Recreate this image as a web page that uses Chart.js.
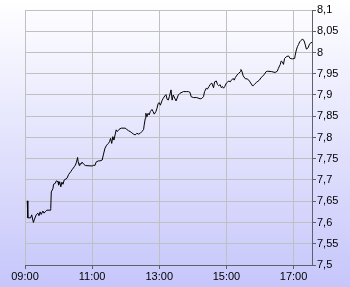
<!DOCTYPE html>
<html><head><meta charset="utf-8">
<script src="https://cdn.jsdelivr.net/npm/chart.js@4/dist/chart.umd.min.js"></script>
<style>
html,body{margin:0;padding:0;}
body{width:350px;height:287px;overflow:hidden;background:linear-gradient(to bottom,#ffffff 0%,#c6c6fb 100%);}
#wrap{width:350px;height:287px;position:relative;}
canvas{display:block;}
</style></head><body>
<div id="wrap"><canvas id="c" width="350" height="287"></canvas></div>
<script>
// minutes after 09:00
const minutes=[4,5,10,12,15,17,20,23,25,27,29,32,34,36,39,45,46,47,50,51,54,56,59,60,62,64,66,68,70,75,76,78,82,84,88,90,92,94,95,97,98,100,102,105,108,120,123,125,127,131,134,138,140,143,146,149,151,153,155,157,159,161,163,165,168,172,179,182,185,188,191,194,197,200,203,206,209,212,213,215,216,218,220,222,224,227,229,231,234,236,238,240,242,245,247,250,252,254,256,258,261,263,265,270,274,277,283,289,292,295,297,301,307,313,316,319,321,324,326,329,331,334,337,339,342,344,346,349,351,353,355,357,360,362,364,367,369,372,374,376,379,382,385,386,388,390,394,397,400,402,407,410,414,419,422,424,428,431,434,441,447,451,453,456,458,460,462,464,467,471,474,478,482,483,485,487,489,491,494,496,499,501,503,506,508,510,513];
const prices=[7.651,7.611,7.611,7.618,7.600,7.608,7.618,7.622,7.616,7.625,7.619,7.627,7.622,7.625,7.629,7.629,7.633,7.672,7.680,7.690,7.692,7.698,7.696,7.688,7.696,7.684,7.695,7.690,7.700,7.704,7.707,7.713,7.720,7.724,7.731,7.735,7.742,7.753,7.743,7.734,7.739,7.737,7.742,7.737,7.734,7.733,7.735,7.734,7.742,7.745,7.745,7.747,7.759,7.775,7.782,7.786,7.790,7.798,7.786,7.802,7.794,7.806,7.818,7.814,7.819,7.822,7.822,7.819,7.816,7.814,7.811,7.808,7.806,7.810,7.808,7.810,7.814,7.819,7.829,7.845,7.857,7.849,7.857,7.853,7.861,7.866,7.861,7.855,7.861,7.869,7.880,7.882,7.876,7.887,7.892,7.898,7.901,7.890,7.888,7.896,7.912,7.888,7.900,7.886,7.900,7.904,7.908,7.908,7.908,7.906,7.896,7.894,7.894,7.891,7.892,7.896,7.908,7.916,7.914,7.920,7.925,7.928,7.917,7.931,7.933,7.925,7.922,7.924,7.917,7.920,7.916,7.920,7.928,7.930,7.933,7.931,7.935,7.939,7.935,7.941,7.947,7.951,7.955,7.960,7.955,7.945,7.938,7.938,7.935,7.931,7.921,7.925,7.930,7.935,7.941,7.943,7.949,7.955,7.956,7.955,7.953,7.956,7.963,7.971,7.980,7.978,7.972,7.986,7.990,7.992,7.986,7.985,7.986,7.994,8.006,8.014,8.019,8.025,8.029,8.032,8.027,8.018,8.008,8.011,8.018,8.022,8.024];
const xTickMinutes=[0,120,240,360,480];
const xTickLabels=['09:00','11:00','13:00','15:00','17:00'];
const yTickValues=[7.5,7.55,7.6,7.65,7.7,7.75,7.8,7.85,7.9,7.95,8.0,8.05,8.1];
const yTickLabels=['7,5','7,55','7,6','7,65','7,7','7,75','7,8','7,85','7,9','7,95','8','8,05','8,1'];
const xMin=0, xMax=513, yMin=7.5, yMax=8.1;

const points=minutes.map((m,i)=>({x:m,y:prices[i]}));
const font={family:'"Liberation Sans", Arial, sans-serif',size:11};

new Chart(document.getElementById('c'),{
  type:'line',
  data:{datasets:[{data:points,borderColor:'#000',borderWidth:1,pointRadius:0,tension:0,fill:false}]},
  options:{
    responsive:false,animation:false,devicePixelRatio:1,
    layout:{padding:{left:25,top:10,right:0,bottom:0}},
    plugins:{legend:{display:false},tooltip:{enabled:false}},
    scales:{
      x:{type:'linear',min:xMin,max:xMax,
        afterBuildTicks:s=>{s.ticks=xTickMinutes.map(v=>({value:v}));},
        afterFit:s=>{s.height=22;},
        ticks:{autoSkip:false,maxRotation:0,color:'#000',font:font,padding:1,
          callback:(v)=>{const i=xTickMinutes.indexOf(v);return i>=0?xTickLabels[i]:'';}},
        grid:{color:'#c0c0c0',tickColor:'#60606a',tickLength:4,lineWidth:1},
        border:{color:'#60606a',width:1}
      },
      y:{type:'linear',position:'right',min:yMin,max:yMax,
        afterBuildTicks:s=>{s.ticks=yTickValues.map(v=>({value:v}));},
        afterFit:s=>{s.width=38;},
        ticks:{autoSkip:false,color:'#000',font:font,padding:1,
          callback:(v)=>{const i=yTickValues.findIndex(t=>Math.abs(t-v)<1e-9);return i>=0?yTickLabels[i]:'';}},
        grid:{color:'#c0c0c0',tickColor:'#60606a',tickLength:4,lineWidth:1},
        border:{color:'#60606a',width:1}
      }
    }
  }
});
</script>
</body></html>
